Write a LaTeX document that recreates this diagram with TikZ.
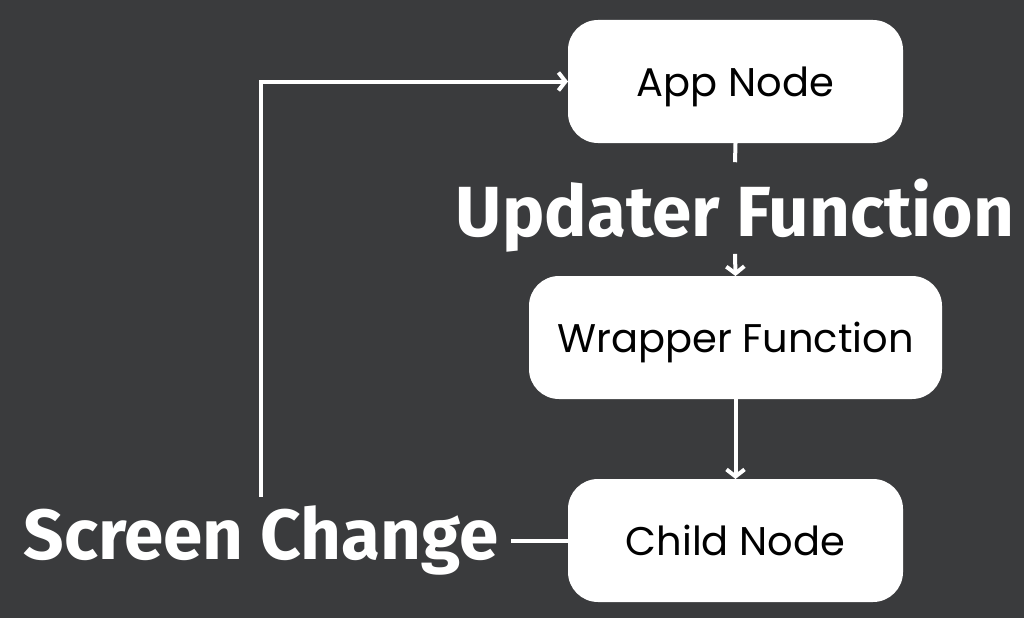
\documentclass[tikz,border=0pt]{standalone}
\usepackage{fontspec}
\setmainfont{Poppins}
\newfontfamily\labelfont{Fira Sans}
\usetikzlibrary{arrows.meta}
\definecolor{bgcol}{HTML}{3A3B3D}
\tikzstyle{edge}=[draw=white, line width=4pt,
                  -{Straight Barb[length=7pt, width=18pt]}]
\tikzstyle{plain}=[draw=white, line width=4pt]
\tikzstyle{block}=[rectangle, rounded corners=30pt, fill=white,
                   minimum height=123pt, text=black,
                   font=\fontsize{40}{40}\selectfont,
                   text depth=0pt,
                   inner sep=0pt, outer sep=0pt]
\tikzstyle{tag}=[text=white, inner sep=2pt,
                 font=\labelfont\bfseries\fontsize{71}{71}\selectfont]

\begin{document}
\begin{tikzpicture}[x=1pt, y=-1pt]
   \fill [bgcol] (0,0) rectangle (1024,618);
   \useasboundingbox (0,0) rectangle (1024,618);

   \node (app)     at (735.5,81.5)  [block, minimum width=335pt]{App Node};
   \node (wrapper) at (735.5,337.5) [block, minimum width=413pt]{Wrapper Function};
   \node (child)   at (735.5,540.5) [block, minimum width=335pt]{Child Node};
   \node (updater) at (735,236) [tag, anchor=base]{Updater Function};
   \node (screen)  at (261,559) [tag, anchor=base]{Screen Change};

   \draw [plain] (app.south) -- ([yshift=14pt]updater.north);
   \draw [edge] (updater.south) -- (wrapper.north);
   \draw [edge] (wrapper.south) -- (child.north);
   \draw [plain, shorten >=10pt] (child.west) -- (screen.east |- child.west);
   \draw [edge] ([yshift=6pt]screen.north) |- (app.west);
\end{tikzpicture}
\end{document}
